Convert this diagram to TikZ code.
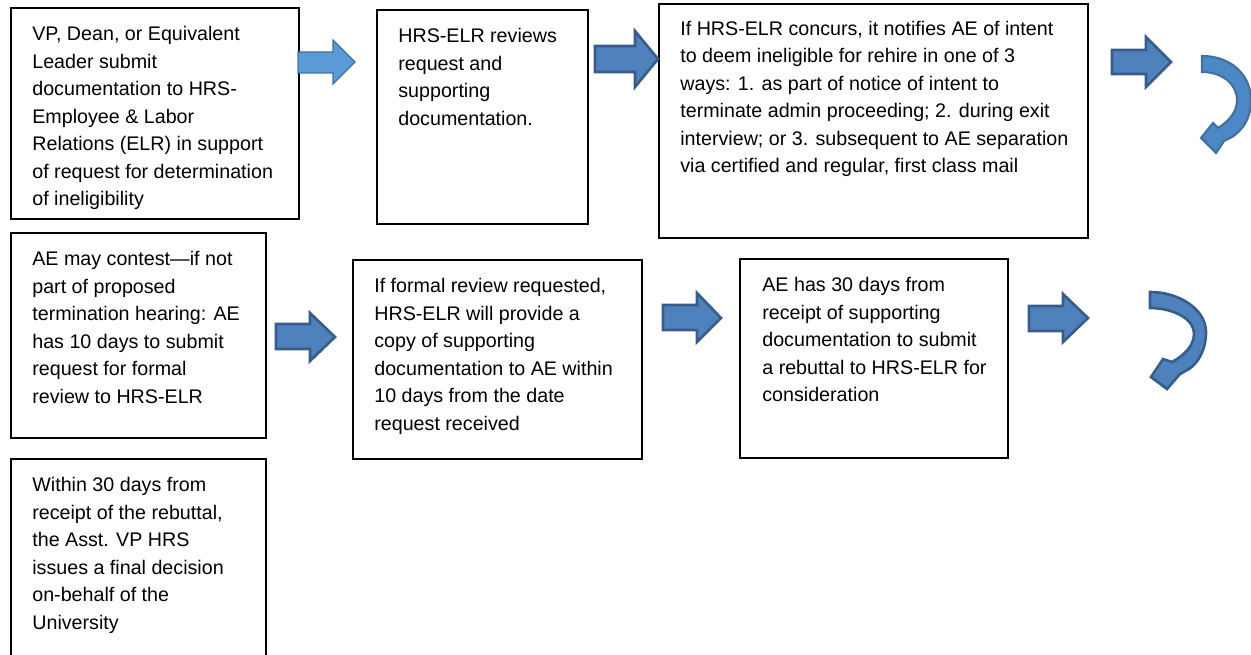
\documentclass[tikz,border=0pt]{standalone}
\usepackage{fontspec}
\setmainfont{Liberation Sans}
\usepackage{tikz}

\definecolor{arrowfill}{HTML}{4F81BD}
\definecolor{arrowline}{HTML}{385D8A}
\definecolor{lightfill}{HTML}{5B9BD5}
\definecolor{lightline}{HTML}{41719C}
\definecolor{curvefill}{HTML}{4D88C6}

\begin{document}
\begin{tikzpicture}[x=0.02cm, y=-0.02cm,
    box/.style={line width=1.1pt},
    steptext/.style={anchor=north west, align=left, inner sep=0pt,
        font=\fontsize{11.2}{15.65}\selectfont},
    blockarrow/.style={fill=arrowfill, draw=arrowline, line width=1.5pt},
    lightarrow/.style={fill=lightfill, draw=lightline, line width=0.7pt},
    curvearrow/.style={fill=curvefill, draw=lightline, line width=1.2pt}]

    \useasboundingbox (0,0) rectangle (1251,655);

    % Boxes of the first row
    \draw[box] (11,8) rectangle (299,219);
    \draw[box] (377,10) rectangle (588,224);
    \draw[box] (659,4) rectangle (1088,238);

    % Boxes of the second row
    \draw[box] (11,233) rectangle (266,438);
    \draw[box] (353,260) rectangle (642,459);
    \draw[box] (740,259) rectangle (1008,458);

    % Last box (runs off the page)
    \draw[box] (11,660) -- (11,459) -- (266,459) -- (266,660);

    % Texts in boxes
    \node[steptext] (t1) at (32,26.2) {VP, Dean, or Equivalent\\Leader submit\\documentation to HRS-\\Employee \& Labor\\Relations (ELR) in support\\of request for determination\\of ineligibility};
    \node[steptext] (t2) at (398,28.2) {HRS-ELR reviews\\request and\\supporting\\documentation.};
    \node[steptext] (t3) at (680,20.7) {If HRS-ELR concurs, it notifies AE of intent\\to deem ineligible for rehire in one of 3\\ways: 1. as part of notice of intent to\\terminate admin proceeding; 2. during exit\\interview; or 3. subsequent to AE separation\\via certified and regular, first class mail};

    \node[steptext] (t4) at (32,251.2) {AE may contest---if not\\part of proposed\\termination hearing: AE\\has 10 days to submit\\request for formal\\review to HRS-ELR};
    \node[steptext] (t5) at (374,278.2) {If formal review requested,\\HRS-ELR will provide a\\copy of supporting\\documentation to AE within\\10 days from the date\\request received};
    \node[steptext] (t6) at (762,277.2) {AE has 30 days from\\receipt of supporting\\documentation to submit\\a rebuttal to HRS-ELR for\\consideration};

    \node[steptext] (t7) at (32,477.2) {Within 30 days from\\receipt of the rebuttal,\\the Asst. VP HRS\\issues a final decision\\on-behalf of the\\University};

    % Block arrows, first row
    \draw[lightarrow] (298,52) -- (333,52) -- (333,40) -- (355,62) -- (333,84) -- (333,73) -- (298,73) -- cycle;
    \draw[blockarrow] (595,46) -- (635,46) -- (635,31) -- (658,59) -- (635,87) -- (635,72) -- (595,72) -- cycle;
    \draw[blockarrow] (1112,50) -- (1146,50) -- (1146,37) -- (1171,62) -- (1146,87) -- (1146,74) -- (1112,74) -- cycle;

    % Block arrows, second row
    \draw[blockarrow] (276,324) -- (310,324) -- (310,313) -- (335,337) -- (310,361) -- (310,349) -- (276,349) -- cycle;
    \draw[blockarrow] (663,305) -- (697,305) -- (697,293) -- (721,318) -- (697,342) -- (697,330) -- (663,330) -- cycle;
    \draw[blockarrow] (1029,306) -- (1063,306) -- (1063,294) -- (1088,318) -- (1063,342) -- (1063,331) -- (1029,331) -- cycle;

    % Curved arrows at the row ends
    \draw[curvearrow] (1202,56) .. controls (1232,56) and (1251,76) .. (1251,100)
        .. controls (1251,118) and (1243,130) .. (1232,137)
        -- (1224,141) -- (1216,153) -- (1201,138) -- (1213,123) -- (1218,128)
        .. controls (1229,121) and (1237,112) .. (1237,100)
        .. controls (1237,84) and (1222,72) .. (1202,72) -- cycle;
    \draw[blockarrow] (1150,292) .. controls (1180,292) and (1206,310) .. (1206,332)
        .. controls (1206,350) and (1198,363) .. (1189,369)
        -- (1180,374) -- (1167,389) -- (1151,377) -- (1163,359) -- (1172,362)
        .. controls (1185,355) and (1194,345) .. (1194,334)
        .. controls (1194,318) and (1172,308) .. (1150,308) -- cycle;

\end{tikzpicture}
\end{document}
